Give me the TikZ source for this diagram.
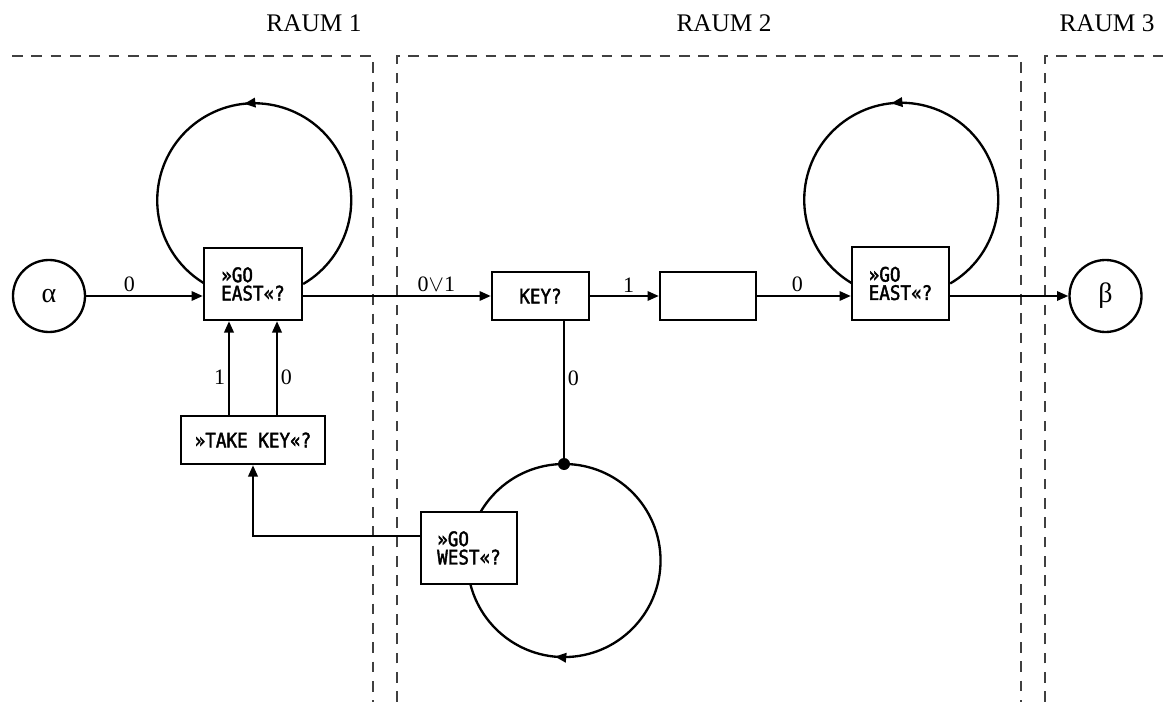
\documentclass[tikz,border=0pt]{standalone}
\usepackage{fontspec}
\setmainfont{Liberation Serif}
\newfontfamily\boxfont[FakeStretch=0.88,FakeBold=2]{DejaVu Sans Mono}
\usetikzlibrary{arrows.meta,backgrounds,decorations.markings}
\begin{document}
\begin{tikzpicture}[x=0.75pt,y=-0.75pt,
  line width=1.75pt,
  box/.style={draw, fill=white, inner sep=0pt, font=\boxfont\fontsize{15}{13.75}\selectfont, align=left},
  term/.style={draw, circle, fill=white, minimum size=54pt, inner sep=0pt, font=\fontsize{21}{24}\selectfont},
  arr/.style={-{Triangle[length=8.5pt,width=7pt]}},
  room/.style={dash pattern=on 8pt off 6.5pt, line width=0.9pt, draw=black!75},
  lab/.style={font=\fontsize{16.5}{19}\selectfont, inner sep=2pt},
  head/.style={font=\fontsize{19}{22}\selectfont, anchor=base, inner sep=0pt},
  loopmark/.style={line width=1.75pt, postaction={decorate}, decoration={markings, mark=at position #1 with {\arrow{Triangle[length=8.5pt,width=7pt]}}}},
]
\useasboundingbox (0,0) rectangle (1163,702);

% room headings
\node[head] (r1) at (314,32) {RAUM 1};
\node[head] (r2) at (724,32) {RAUM 2};
\node[head] (r3) at (1107,32) {RAUM 3};

% nodes
\node[term] (alpha) at (49,296) {α};
\node[box, minimum width=73.5pt, minimum height=54pt] (ge1) at (253,284) {»GO\\EAST«?};
\node[box, minimum width=108pt, minimum height=36pt] (tk) at (253,440) {»TAKE KEY«?};
\node[box, minimum width=72.75pt, minimum height=36pt] (key) at (540.5,296) {KEY?};
\node[box, minimum width=72pt, minimum height=36pt] (emp) at (708,296) {};
\node[box, minimum width=72.75pt, minimum height=54.75pt] (ge2) at (900.5,283.5) {»GO\\EAST«?};
\node[box, minimum width=72pt, minimum height=54pt] (gw) at (469,548) {»GO\\WEST«?};
\node[term] (beta) at (1105.5,296) {β};
\coordinate (dot) at (564,464);

% main line
\draw[arr] (alpha.east) -- node[lab, above, pos=0.37] {0} (alpha.east -| ge1.west);
\draw[arr] (key.west -| ge1.east) -- node[lab, above, pos=0.71] {0$\vee$1} (key.west);
\draw[arr] (key.east) -- node[lab, above, pos=0.56] {1} (emp.west);
\draw[arr] (emp.east) -- node[lab, above, pos=0.43] {0} (emp.east -| ge2.west);
\draw[arr] (emp.east -| ge2.east) -- (beta.west);

% take key
\draw[arr] ([xshift=-18pt]tk.north) -- node[lab, left, pos=0.4] {1} ([xshift=-18pt]tk.north |- ge1.south);
\draw[arr] ([xshift=18pt]tk.north) -- node[lab, right, pos=0.4] {0} ([xshift=18pt]tk.north |- ge1.south);
\draw[arr] ([yshift=9pt]gw.west) -| (tk.south);

% key? 0 branch
\draw (key.south -| dot) -- node[lab, right, pos=0.4] {0} (dot);
\fill (dot) circle[radius=4.5pt];

\begin{pgfonlayer}{background}
\draw[loopmark=0.52] (ge1.east) arc[start angle=-59.7, end angle=239.7, radius=72.75pt];
\draw[loopmark=0.52] (ge2.east) arc[start angle=-59.7, end angle=239.7, radius=72.75pt];
\draw[loopmark=0.515] (dot) arc[start angle=90, end angle=-270, radius=72.4pt];
% rooms
\draw[room] (12,56) -- (373,56) -- (373,702);
\draw[room] (397,702) -- (397,56) -- (1021,56) -- (1021,702);
\draw[room] (1045,702) -- (1045,56) -- (1163,56);
\end{pgfonlayer}
\end{tikzpicture}
\end{document}
